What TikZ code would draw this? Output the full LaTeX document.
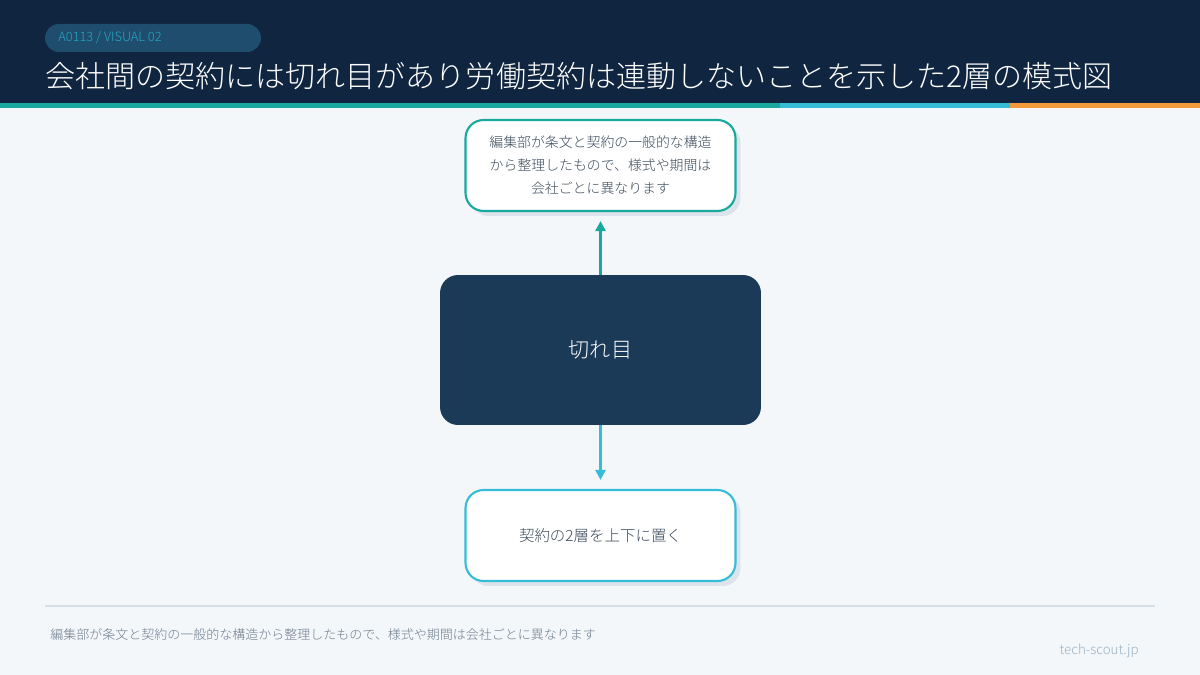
\documentclass[tikz,border=0pt]{standalone}
\usepackage{fontspec}
\usepackage{tikz}
\usetikzlibrary{shapes,arrows.meta,shadows}

\newfontfamily\jpfont{Noto Sans CJK JP Light}
\definecolor{pagebg}{HTML}{F4F7FA}
\definecolor{headbg}{HTML}{10253F}
\definecolor{pillbg}{HTML}{1E4D6D}
\definecolor{pilltext}{HTML}{2AA6C6}
\definecolor{teal}{HTML}{17A89E}
\definecolor{sky}{HTML}{35BCD6}
\definecolor{amber}{HTML}{F39A3A}
\definecolor{navy}{HTML}{1B3A58}
\definecolor{bodytext}{HTML}{3B4A5A}
\definecolor{shade}{HTML}{DCE3EA}
\definecolor{rule}{HTML}{D6DFE6}
\definecolor{foottext}{HTML}{6E7E8E}
\definecolor{urltext}{HTML}{9AB2C4}

\tikzset{
  every node/.style={font=\jpfont, inner sep=0pt},
  notebox/.style={draw, line width=1.2pt, fill=white, rounded corners=0.36cm,
    minimum width=5.4cm, minimum height=1.82cm, align=center, text=bodytext,
    drop shadow={shadow xshift=0.1cm, shadow yshift=-0.1cm, fill=shade, opacity=1}},
  cutbox/.style={fill=navy, rounded corners=0.36cm, minimum width=6.42cm,
    minimum height=3cm, text=white},
  link/.style={line width=2.1pt, -{Triangle[length=0.2cm,width=0.2cm]}, shorten >=0.18cm}
}

\begin{document}
\begin{tikzpicture}[x=0.02cm,y=-0.02cm]
\useasboundingbox (0,0) rectangle (1200,675);
\fill[pagebg] (0,0) rectangle (1200,675);

% header
\fill[headbg] (0,0) rectangle (1200,103);
\fill[teal] (0,103) rectangle (780,108);
\fill[sky] (780,103) rectangle (1010,108);
\fill[amber] (1010,103) rectangle (1200,108);
\fill[pillbg, rounded corners=0.28cm] (45,24) rectangle (261,52);
\node[anchor=west, text=pilltext, font=\jpfont\fontsize{7.3}{8}\selectfont] (tag) at (58,38) {A0113 / VISUAL 02};
\node[anchor=west, text=white, font=\jpfont\fontsize{17.1}{18}\selectfont] (title) at (45,76)
  {会社間の契約には切れ目があり労働契約は連動しないことを示した2層の模式図};

% the three boxes
\node[cutbox, font=\jpfont\fontsize{12}{14}\selectfont] (cut) at (600.5,350) {切れ目};
\node[notebox, draw=teal, font=\jpfont\fontsize{7.9}{13}\selectfont] (upper) at (600.5,165.5)
  {編集部が条文と契約の一般的な構造\\から整理したもので、様式や期間は\\会社ごとに異なります};
\node[notebox, draw=sky, font=\jpfont\fontsize{8.8}{10}\selectfont] (lower) at (600.5,535.5)
  {契約の2層を上下に置く};

% arrows
\draw[link, teal] (cut) -- (upper);
\draw[link, sky] (cut) -- (lower);

% footer
\draw[rule, line width=1.2pt] (45,606) -- (1155,606);
\node[anchor=west, text=foottext, font=\jpfont\fontsize{7.4}{8}\selectfont] (note) at (50,635)
  {編集部が条文と契約の一般的な構造から整理したもので、様式や期間は会社ごとに異なります};
\node[anchor=east, text=urltext, font=\jpfont\fontsize{7.6}{9}\selectfont] (site) at (1139,651) {tech-scout.jp};
\end{tikzpicture}
\end{document}
